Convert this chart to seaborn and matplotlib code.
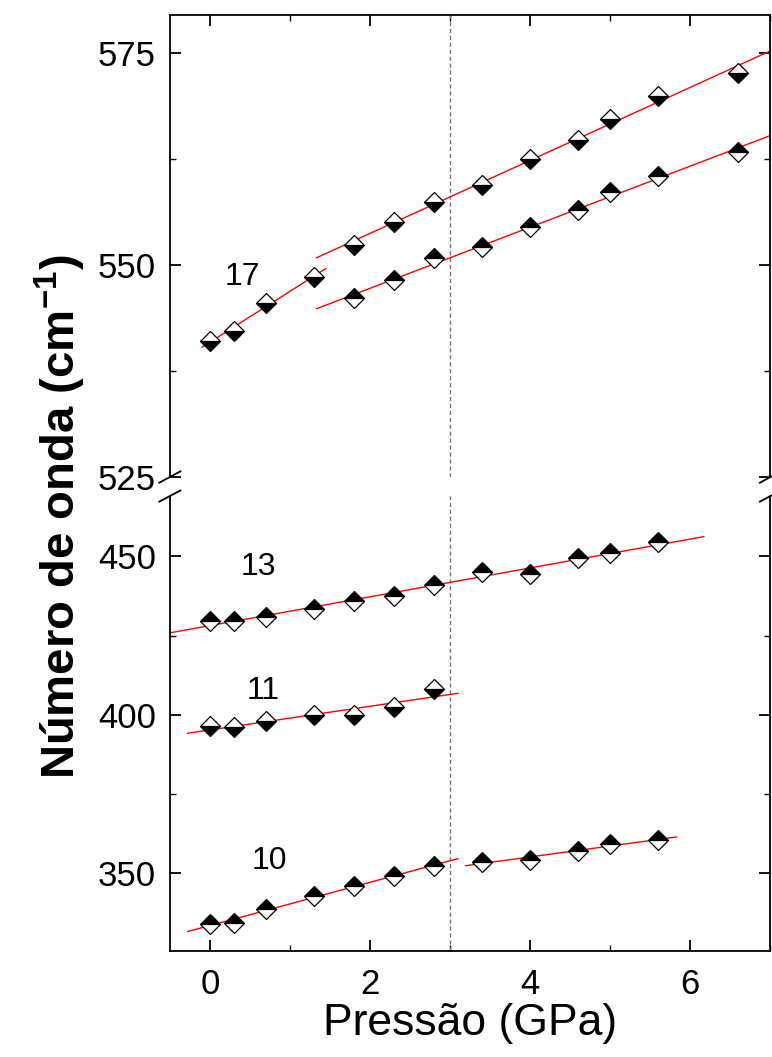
import numpy as np
import pandas as pd
import matplotlib
matplotlib.use("Agg")
import matplotlib.pyplot as plt
from matplotlib.ticker import MultipleLocator
import seaborn as sns

# pressões (GPa)
P = [0, 0.3, 0.7, 1.3, 1.8, 2.3, 2.8, 3.4, 4.0, 4.6, 5.0, 5.6, 6.6]

# modo 17 (painel superior)
m17_low = [541.1, 542.2, 545.5, 548.6]                                       # P[0:4]
m17_up = [552.4, 555.1, 557.5, 559.5, 562.5, 564.8, 567.2, 569.9, 572.7]     # P[4:13]
m17_dn = [546.1, 548.2, 550.8, 552.1, 554.5, 556.5, 558.6, 560.5, 563.3]     # P[4:13]

# modos 13, 11, 10 (painel inferior)
m13 = [429.7, 429.5, 430.9, 433.5, 436.0, 437.4, 440.9, 445.1, 444.3, 449.4, 451.0, 454.5]  # P[0:12]
m11 = [396.4, 396.1, 398.0, 399.8, 400.0, 402.4, 408.2]                                      # P[0:7]
m10 = [334.1, 334.3, 338.7, 342.7, 346.0, 349.3, 352.3, 353.7, 354.2, 357.0, 359.4, 360.5]  # P[0:12]

sns.set_style("ticks")
plt.rcParams['font.family'] = ['Liberation Sans', 'DejaVu Sans']
plt.rcParams['mathtext.fontset'] = 'custom'
plt.rcParams['mathtext.rm'] = 'Liberation Sans'
plt.rcParams['mathtext.bf'] = 'Liberation Sans:bold'
for k in ['text.color', 'axes.labelcolor', 'xtick.color', 'ytick.color', 'axes.edgecolor']:
    plt.rcParams[k] = 'black'

fig = plt.figure(figsize=(7.72, 10.57), dpi=100)
ax1 = fig.add_axes([0.220, 0.5487, 0.778, 0.4371])
ax2 = fig.add_axes([0.220, 0.1003, 0.778, 0.4304])


def pontos(ax, x, y, fs):
    df = pd.DataFrame({'x': x, 'y': y})
    sns.lineplot(data=df, x='x', y='y', ax=ax, linestyle='', marker='D', markersize=10,
                 color='black', markerfacecolor='black', markerfacecoloralt='white',
                 markeredgecolor='black', markeredgewidth=0.9, fillstyle=fs,
                 estimator=None, sort=False, zorder=3)


def ajuste(ax, x, y, x0, x1):
    a, b = np.polyfit(x, y, 1)
    xs = np.array([x0, x1])
    df = pd.DataFrame({'x': xs, 'y': a * xs + b})
    sns.lineplot(data=df, x='x', y='y', ax=ax, color='red', linewidth=1.0,
                 estimator=None, sort=False, zorder=2)


# painel superior
pontos(ax1, P[:4], m17_low, 'bottom')
pontos(ax1, P[4:], m17_up, 'bottom')
pontos(ax1, P[4:], m17_dn, 'top')
ajuste(ax1, P[:4], m17_low, -0.1, 1.45)
ajuste(ax1, P[4:], m17_up, 1.33, 7.0)
ajuste(ax1, P[4:], m17_dn, 1.33, 7.0)

# painel inferior
pontos(ax2, P[:12], m13, 'top')
pontos(ax2, P[:7], m11, 'bottom')
pontos(ax2, P[:12], m10, 'top')
ajuste(ax2, P[:12], m13, -0.5, 6.17)
ajuste(ax2, P[:7], m11, -0.28, 3.1)
ajuste(ax2, P[:7], m10[:7], -0.28, 3.1)
ajuste(ax2, P[7:12], m10[7:], 3.19, 5.83)

for ax in (ax1, ax2):
    ax.axvline(3.0, color='#777777', linestyle=(0, (3, 2)), linewidth=1.0, zorder=1)
    ax.set_xlim(-0.5, 7)
    ax.set_xlabel('')
    ax.set_ylabel('')
    ax.xaxis.set_major_locator(MultipleLocator(2))
    ax.xaxis.set_minor_locator(MultipleLocator(1))
    for s in ax.spines.values():
        s.set_linewidth(1.3)
    ax.tick_params(which='major', direction='in', length=8, width=1.3, labelsize=25)
    ax.tick_params(which='minor', direction='in', length=4, width=1.0)

ax1.set_ylim(525, 579.5)
ax1.yaxis.set_major_locator(MultipleLocator(25))
ax1.yaxis.set_minor_locator(MultipleLocator(12.5))
ax1.spines['bottom'].set_visible(False)
ax1.tick_params(which='both', top=True, bottom=False, right=True, labelbottom=False)

ax2.set_ylim(325.5, 469)
ax2.yaxis.set_major_locator(MultipleLocator(50))
ax2.yaxis.set_minor_locator(MultipleLocator(25))
ax2.spines['top'].set_visible(False)
ax2.tick_params(which='both', top=False, bottom=True, right=True)
ax2.tick_params(axis='x', which='major', pad=12)
ax2.tick_params(axis='y', which='major', pad=10)
ax1.tick_params(axis='y', which='major', pad=10)

# marcas de quebra do eixo
d = 0.018
kw = dict(color='black', clip_on=False, linewidth=1.3)
ax1.plot((-d, d), (-d * 0.7, d * 0.7), transform=ax1.transAxes, **kw)
ax1.plot((1 - d, 1 + d), (-d * 0.7, d * 0.7), transform=ax1.transAxes, **kw)
ax2.plot((-d, d), (1 - d * 0.7, 1 + d * 0.7), transform=ax2.transAxes, **kw)
ax2.plot((1 - d, 1 + d), (1 - d * 0.7, 1 + d * 0.7), transform=ax2.transAxes, **kw)

# rótulos dos modos
ax1.text(0.4, 548.6, '17', fontsize=23, ha='center', va='center')
ax2.text(0.6, 446.6, '13', fontsize=23, ha='center', va='center')
ax2.text(0.66, 407.4, '11', fontsize=23, ha='center', va='center')
ax2.text(0.74, 353.9, '10', fontsize=23, ha='center', va='center')

ax2.set_xlabel('Pressão (GPa)', fontsize=32, labelpad=2)
fig.text(0.078, 0.511, r'Número de onda (cm$^{\mathbf{-1}}$)', rotation=90,
         fontsize=34, fontweight='bold', ha='center', va='center')

fig.savefig('out.png', dpi=100)
